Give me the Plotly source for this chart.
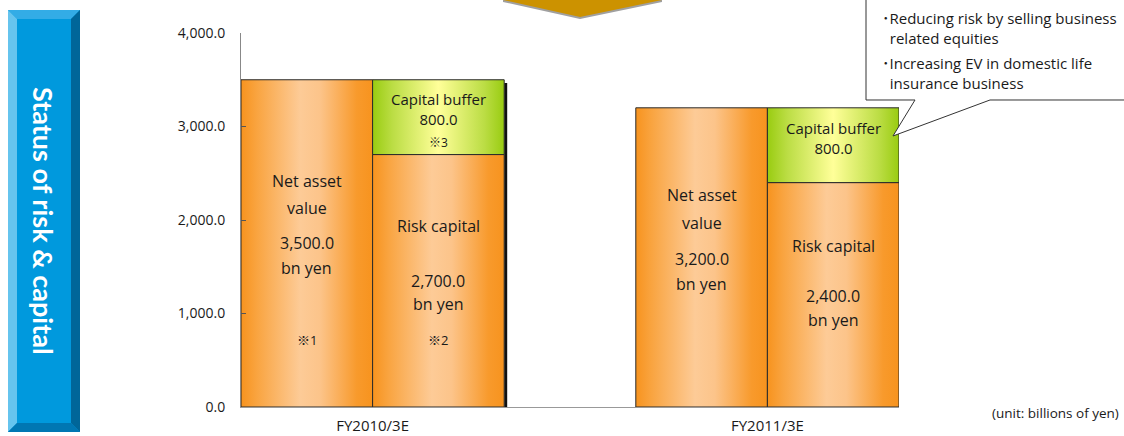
import plotly.graph_objects as go

# ---- data ----
periods = ["FY2010/3E", "FY2011/3E"]
net_asset = [3500.0, 3200.0]
risk_capital = [2700.0, 2400.0]
capital_buffer = [800.0, 800.0]
y_ticks = [0, 1000, 2000, 3000, 4000]
notes_net = ["※1", ""]
notes_risk = ["※2", ""]
notes_buffer = ["※3", ""]
callout_items = [
    "･Reducing risk by selling business<br>  related equities",
    "･Increasing EV in domestic life<br>  insurance business",
]

FONT = "Open Sans, Noto Sans CJK JP, sans-serif"
ORANGE = [[0, "#F7931E"], [0.12, "#F9A440"], [0.45, "#FDCB97"], [0.6, "#FCC48A"],
          [0.88, "#F89A2C"], [1, "#F7931E"]]
GREEN = [[0, "#99CC11"], [0.15, "#BBDD44"], [0.5, "#FFFF99"], [0.85, "#BBDD44"], [1, "#99CC11"]]

# pixel frame of the plot area
W, H = 1124, 436
L, R, T, B = 241, 899, 33, 407


def px(x):
    return (x - L) / (R - L)


def py(y):
    return (B - y) / (B - T)


def rect(x0, x1, y0, y1, scale):
    return go.Scatter(
        x=[x0, x1, x1, x0, x0], y=[y0, y0, y1, y1, y0],
        mode="lines", fill="toself",
        fillgradient=dict(type="horizontal", colorscale=scale),
        line=dict(color="#2b2b2b", width=1),
        hoverinfo="skip", showlegend=False,
    )


fig = go.Figure()
shapes = []
ann = []

centers = [1 + 3 * i for i in range(len(periods))]
for i, c in enumerate(centers):
    na, rc, cb = net_asset[i], risk_capital[i], capital_buffer[i]
    # shadow on right of the stacked column
    shapes.append(dict(type="rect", xref="x", yref="y", xsizemode="pixel", xanchor=c + 1,
                       x0=0, x1=3, y0=0, y1=(rc + cb) * 0.99,
                       fillcolor="#111", line=dict(width=0), layer="below"))
    fig.add_trace(rect(c - 1, c, 0, na, ORANGE))
    fig.add_trace(rect(c, c + 1, 0, rc, ORANGE))
    fig.add_trace(rect(c, c + 1, rc, rc + cb, GREEN))


# text inside bars (pixel rows)
def txt(x, ypix, s, size=16):
    ann.append(dict(x=x, xref="x", y=py(ypix), yref="paper", text=s, showarrow=False,
                    xanchor="center", yanchor="middle",
                    font=dict(size=size, color="#1a1a1a", family=FONT)))


rows = [
    dict(na=[181, 208, 243, 268, 340], cb=[109, 142], rc=[226, 281, 304, 340]),
    dict(na=[195, 223, 259, 284, 340], cb=[138, 170], rc=[246, 296, 320, 340]),
]
for i, c in enumerate(centers):
    r = rows[i]
    xn, xr = c - 0.5, c + 0.5
    txt(xn, r["na"][0], "Net asset")
    txt(xn, r["na"][1], "value")
    txt(xn, r["na"][2], f"{net_asset[i]:,.1f}")
    txt(xn, r["na"][3], "bn yen")
    if notes_net[i]:
        txt(xn, r["na"][4], notes_net[i], 13)
    txt(xr, r["cb"][0], f"Capital buffer<br>{capital_buffer[i]:,.1f}", 15)
    if notes_buffer[i]:
        txt(xr, r["cb"][1], notes_buffer[i], 12)
    txt(xr, r["rc"][0], "Risk capital")
    txt(xr, r["rc"][1], f"{risk_capital[i]:,.1f}")
    txt(xr, r["rc"][2], "bn yen")
    if notes_risk[i]:
        txt(xr, r["rc"][3], notes_risk[i], 13)


def path(pts):
    return "M " + " L ".join(f"{px(x):.5f},{py(y):.5f}" for x, y in pts) + " Z"


# left banner
shapes += [
    dict(type="rect", xref="paper", yref="paper", x0=px(8), x1=px(80), y0=py(432), y1=py(10),
         fillcolor="#0099DD", line=dict(width=0)),
    dict(type="path", xref="paper", yref="paper", path=path([(8, 10), (80, 10), (71, 19), (17, 19)]),
         fillcolor="#33ACE6", line=dict(width=0)),
    dict(type="path", xref="paper", yref="paper", path=path([(8, 10), (17, 19), (17, 423), (8, 432)]),
         fillcolor="#66C4EE", line=dict(width=0)),
    dict(type="path", xref="paper", yref="paper", path=path([(80, 10), (80, 432), (71, 423), (71, 19)]),
         fillcolor="#006699", line=dict(width=0)),
    dict(type="path", xref="paper", yref="paper", path=path([(8, 432), (17, 423), (71, 423), (80, 432)]),
         fillcolor="#0077B3", line=dict(width=0)),
]
ann.append(dict(x=px(44), y=py(221), xref="paper", yref="paper", text="<b>Status of risk & capital</b>",
                textangle=90, showarrow=False, xanchor="center", yanchor="middle",
                font=dict(size=27, color="white", family="Lato")))

# arrow at top
shapes += [
    dict(type="path", xref="paper", yref="paper",
         path=path([(503, -20), (503, 2), (580, 19), (662, 2), (662, -20)]),
         fillcolor="#A0A0A0", line=dict(width=0)),
    dict(type="path", xref="paper", yref="paper",
         path=path([(503, -20), (503, 0), (580, 17), (662, 0), (662, -20)]),
         fillcolor="#CC9200", line=dict(width=0)),
]

# callout
shapes.append(dict(type="path", xref="paper", yref="paper",
                   path=path([(866, -5), (866, 100), (915, 100), (893, 136), (990, 100),
                              (1135, 100), (1135, -5)]),
                   fillcolor="white", line=dict(color="#333", width=1)))
for s, yp in zip(callout_items, [27.5, 72.5]):
    ann.append(dict(x=px(880), y=py(yp), xref="paper", yref="paper", text=s, xanchor="left",
                    yanchor="middle", align="left", showarrow=False,
                    font=dict(size=15, color="#1a1a1a", family=FONT)))

ann.append(dict(x=px(1121), y=py(413), xref="paper", yref="paper", text="(unit: billions of yen)",
                xanchor="right", yanchor="middle", showarrow=False,
                font=dict(size=13.5, color="#1a1a1a", family=FONT)))

fig.update_layout(
    width=W, height=H,
    margin=dict(l=L, r=W - R, t=T, b=H - B),
    paper_bgcolor="white", plot_bgcolor="white",
    showlegend=False,
    shapes=shapes, annotations=ann,
    font=dict(family=FONT, color="#1a1a1a"),
    xaxis=dict(range=[0, 5], tickvals=centers, ticktext=periods, showgrid=False, zeroline=False,
               showline=True, linecolor="#999", linewidth=1, ticks="", ticklabelstandoff=5,
               tickfont=dict(size=15), automargin=False, fixedrange=True),
    yaxis=dict(range=[0, 4000], tickvals=y_ticks, tickformat=",.1f", showgrid=False, zeroline=False,
               showline=True, linecolor="#888", linewidth=1, ticks="inside", ticklen=5,
               tickcolor="#555", ticklabelstandoff=12, tickfont=dict(size=14), automargin=False,
               fixedrange=True),
)

fig.write_html("out.html", config={"displayModeBar": False},
               post_script="document.body.style.margin='0';")
